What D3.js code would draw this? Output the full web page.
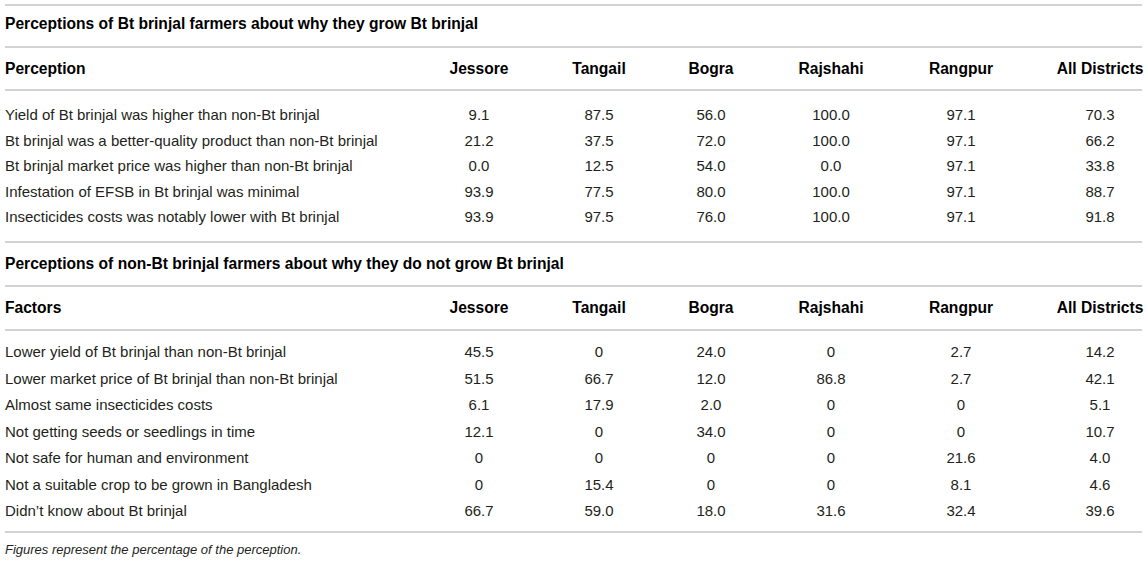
<!DOCTYPE html>
<html>
<head>
<meta charset="utf-8">
<script src="https://cdn.jsdelivr.net/npm/d3@7"></script>
<style>
  html, body { margin: 0; padding: 0; background: #fff; }
  svg { display: block; font-family: "Liberation Sans", Arial, Helvetica, sans-serif; }
</style>
</head>
<body>
<svg id="chart" width="1147" height="561"></svg>
<script>
// ---- Data ----
const districts = ["Jessore", "Tangail", "Bogra", "Rajshahi", "Rangpur", "All Districts"];

const section1Title = "Perceptions of Bt brinjal farmers about why they grow Bt brinjal";
const section1Header = "Perception";
const section1Rows = [
  "Yield of Bt brinjal was higher than non-Bt brinjal",
  "Bt brinjal was a better-quality product than non-Bt brinjal",
  "Bt brinjal market price was higher than non-Bt brinjal",
  "Infestation of EFSB in Bt brinjal was minimal",
  "Insecticides costs was notably lower with Bt brinjal"
];
const section1Values = [
  ["9.1", "87.5", "56.0", "100.0", "97.1", "70.3"],
  ["21.2", "37.5", "72.0", "100.0", "97.1", "66.2"],
  ["0.0", "12.5", "54.0", "0.0", "97.1", "33.8"],
  ["93.9", "77.5", "80.0", "100.0", "97.1", "88.7"],
  ["93.9", "97.5", "76.0", "100.0", "97.1", "91.8"]
];

const section2Title = "Perceptions of non-Bt brinjal farmers about why they do not grow Bt brinjal";
const section2Header = "Factors";
const section2Rows = [
  "Lower yield of Bt brinjal than non-Bt brinjal",
  "Lower market price of Bt brinjal than non-Bt brinjal",
  "Almost same insecticides costs",
  "Not getting seeds or seedlings in time",
  "Not safe for human and environment",
  "Not a suitable crop to be grown in Bangladesh",
  "Didn\u2019t know about Bt brinjal"
];
const section2Values = [
  ["45.5", "0", "24.0", "0", "2.7", "14.2"],
  ["51.5", "66.7", "12.0", "86.8", "2.7", "42.1"],
  ["6.1", "17.9", "2.0", "0", "0", "5.1"],
  ["12.1", "0", "34.0", "0", "0", "10.7"],
  ["0", "0", "0", "0", "21.6", "4.0"],
  ["0", "15.4", "0", "0", "8.1", "4.6"],
  ["66.7", "59.0", "18.0", "31.6", "32.4", "39.6"]
];

const footnote = "Figures represent the percentage of the perception.";

// ---- Layout ----
const svg = d3.select("#chart");
const left = 5, right = 1142;
const colX = d3.scaleOrdinal().domain(districts).range([479, 599, 711, 831, 961, 1100]);

const lineColor = "#c4c4c4";
const textColor = "#231f20";
const bodySize = 15;
const boldSize = 15.6;

function hline(y) {
  svg.append("line")
    .attr("x1", left).attr("x2", right)
    .attr("y1", y).attr("y2", y)
    .attr("stroke", lineColor).attr("stroke-width", 1.6);
}

function drawSection(cfg) {
  hline(cfg.topLine);
  svg.append("text")
    .attr("x", left).attr("y", cfg.titleY).attr("dy", "0.35em")
    .attr("font-size", boldSize).attr("font-weight", "bold").attr("fill", "#000")
    .text(cfg.title);
  hline(cfg.titleLine);
  svg.append("text")
    .attr("x", left).attr("y", cfg.headerY).attr("dy", "0.35em")
    .attr("font-size", boldSize).attr("font-weight", "bold").attr("fill", "#000")
    .text(cfg.header);
  svg.selectAll(null).data(districts).enter().append("text")
    .attr("x", d => colX(d)).attr("y", cfg.headerY).attr("dy", "0.35em")
    .attr("text-anchor", "middle")
    .attr("font-size", boldSize).attr("font-weight", "bold").attr("fill", "#000")
    .text(d => d);
  hline(cfg.headerLine);

  const y = d3.scalePoint().domain(cfg.rows).range(cfg.rowRange);
  const g = svg.append("g");
  const rowG = g.selectAll("g").data(cfg.rows.map((r, i) => ({ label: r, values: cfg.values[i] })))
    .enter().append("g");
  rowG.append("text")
    .attr("x", left).attr("y", d => y(d.label)).attr("dy", "0.35em")
    .attr("font-size", bodySize).attr("fill", textColor)
    .text(d => d.label);
  rowG.selectAll("text.v").data(d => d.values.map((v, j) => ({ v, col: districts[j], label: d.label })))
    .enter().append("text").attr("class", "v")
    .attr("x", d => colX(d.col)).attr("y", d => y(d.label)).attr("dy", "0.35em")
    .attr("text-anchor", "middle")
    .attr("font-size", bodySize).attr("fill", textColor)
    .text(d => d.v);
}

drawSection({
  topLine: 5, title: section1Title, titleY: 24, titleLine: 47,
  header: section1Header, headerY: 69, headerLine: 90,
  rows: section1Rows, values: section1Values, rowRange: [115, 217]
});
drawSection({
  topLine: 242, title: section2Title, titleY: 264, titleLine: 286,
  header: section2Header, headerY: 308, headerLine: 330,
  rows: section2Rows, values: section2Values, rowRange: [352, 511]
});
hline(532);

svg.append("text")
  .attr("x", left).attr("y", 549).attr("dy", "0.35em")
  .attr("font-size", 13).attr("font-style", "italic").attr("fill", textColor)
  .text(footnote);
</script>
</body>
</html>
